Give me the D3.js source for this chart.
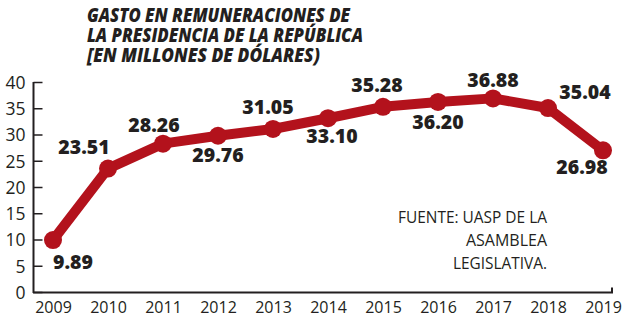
<!DOCTYPE html>
<html><head><meta charset="utf-8">
<script src="https://cdn.jsdelivr.net/npm/d3@7"></script>
<style>body{margin:0;background:#fff}svg{display:block}</style>
</head><body><svg id="c" width="627" height="323"></svg>
<script>
const years = ["2009","2010","2011","2012","2013","2014","2015","2016","2017","2018","2019"];
const values = [9.89,23.51,28.26,29.76,31.05,33.10,35.28,36.20,36.88,35.04,26.98];
const valueLabels = ["9.89","23.51","28.26","29.76","31.05","33.10","35.28","36.20","36.88","35.04","26.98"];
const yTicks = [0,5,10,15,20,25,30,35,40];
const titleLines = ["GASTO EN REMUNERACIONES DE","LA PRESIDENCIA DE LA REPÚBLICA","[EN MILLONES DE DÓLARES)"];
const sourceLines = ["FUENTE: UASP DE LA","ASAMBLEA","LEGISLATIVA."];

// layout: label offsets relative to each point (dx, dy of text centre)
const labelOffsets = [[20,22],[-24,-22],[-9,-19],[0,19],[-5,-22],[4,18],[-6,-22],[0,20],[0,-18],[37,-16],[-21,17]];

const svg = d3.select("#c");
const ink = "#231f20", red = "#b3121c";
const x = d3.scalePoint().domain(years).range([53, 603]);
const y = d3.scaleLinear().domain([0,40]).range([292, 82]);

// title (one text block, three lines)
svg.append("text")
  .attr("font-family","'Open Sans', sans-serif").attr("font-weight",800)
  .attr("font-style","italic").attr("font-size",18.5).attr("fill",ink)
  .selectAll("tspan").data(titleLines).join("tspan")
  .attr("x", 87).attr("y", (d,i)=>22+i*20)
  .attr("textLength",(d,i)=>[263,276,233][i]).attr("lengthAdjust","spacingAndGlyphs")
  .text(d=>d);

// y axis
const ya = svg.append("g").attr("transform","translate(33.5,0)")
  .call(d3.axisLeft(y).tickValues(yTicks).tickSize(-9).tickPadding(8));
ya.select(".domain").attr("stroke",ink).attr("stroke-width",2).attr("d","M0,82V293");
ya.selectAll(".tick line").attr("stroke",ink).attr("stroke-width",1.5);
ya.selectAll(".tick text").attr("font-family","'Open Sans', sans-serif").attr("font-size",17.5)
  .attr("fill",ink).attr("dy","0.36em");

// x axis
const xa = svg.append("g").attr("transform","translate(0,292.5)")
  .call(d3.axisBottom(x).tickSize(0).tickPadding(8));
xa.select(".domain").attr("stroke",ink).attr("stroke-width",2).attr("d","M33,0H612V-5");
xa.selectAll(".tick text").attr("font-family","'Open Sans', sans-serif").attr("font-size",16)
  .attr("fill",ink).attr("dy","0.75em");

// line
const pts = years.map((yr,i)=>({yr, v: values[i], lab: valueLabels[i], off: labelOffsets[i]}));
svg.append("path").datum(pts)
  .attr("d", d3.line().x(d=>x(d.yr)).y(d=>y(d.v)))
  .attr("fill","none").attr("stroke",red).attr("stroke-width",10).attr("stroke-linejoin","round");
svg.append("g").selectAll("circle").data(pts).join("circle")
  .attr("cx",d=>x(d.yr)).attr("cy",d=>y(d.v)).attr("r",9).attr("fill",red);

// value labels
svg.append("g").selectAll("text").data(pts).join("text")
  .attr("x",d=>x(d.yr)+d.off[0]).attr("y",d=>y(d.v)+d.off[1]+7)
  .attr("text-anchor","middle")
  .attr("font-family","'Open Sans', sans-serif").attr("font-weight",800)
  .attr("font-size",19.5).attr("fill",ink).text(d=>d.lab);

// source
svg.append("g").selectAll("text").data(sourceLines).join("text")
  .attr("x",547).attr("y",(d,i)=>223+i*23).attr("text-anchor","end")
  .attr("font-family","'Open Sans', sans-serif").attr("font-size",16)
  .attr("textLength",(d,i)=>[149,81,94][i]).attr("lengthAdjust","spacingAndGlyphs")
  .attr("fill",ink).text(d=>d);
</script></body></html>
